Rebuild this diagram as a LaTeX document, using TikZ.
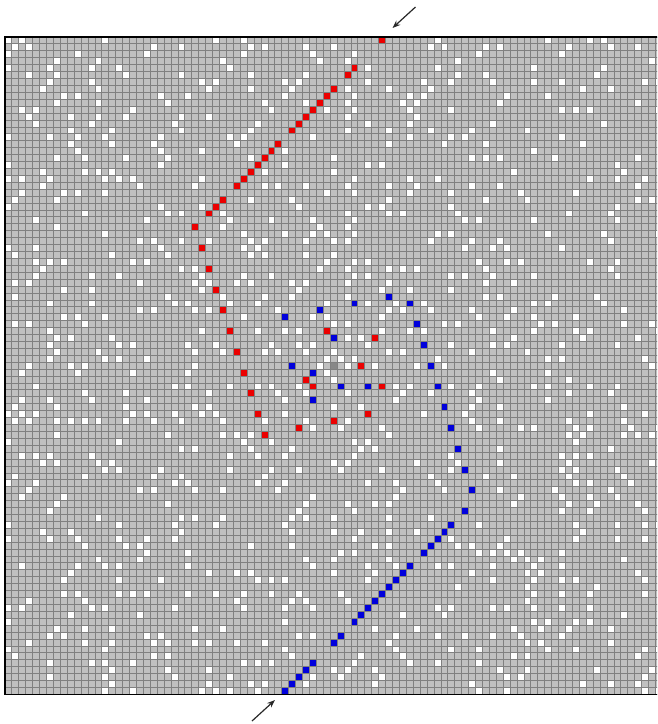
\documentclass[tikz,border=0pt]{standalone}
\usetikzlibrary{arrows.meta}
\definecolor{cellgray}{RGB}{192,192,192}
\definecolor{linegray}{RGB}{128,128,128}
\definecolor{pathred}{RGB}{235,0,0}
\definecolor{pathblue}{RGB}{0,0,220}
\definecolor{centergray}{RGB}{136,136,136}
\definecolor{arrowdark}{RGB}{40,40,40}
\def\cellsz{6.92}
\newcommand\cellat[3]{\fill[#3] ({5+#1*\cellsz},{37+#2*\cellsz}) rectangle ++(\cellsz,\cellsz);}
% Park-Miller generator (Schrage's method)
\newcount\rseed \rseed=20231
\newcount\rhi \newcount\rlo
\def\nextrand{%
  \global\rhi=\rseed \global\divide\rhi by 127773
  \global\rlo=\rhi \global\multiply\rlo by -127773 \global\advance\rlo by \rseed
  \global\multiply\rlo by 16807
  \global\multiply\rhi by 2836
  \global\advance\rlo by -\rhi
  \ifnum\rlo<0 \global\advance\rlo by 2147483647 \fi
  \global\rseed=\rlo}
\newif\ifknowncell
\tikzset{
  gridline/.style={draw=linegray, line width=0.9pt},
  frameline/.style={draw=black, line width=1.3pt},
  pointer/.style={draw=arrowdark, line width=1.2pt, -{Stealth[length=8pt,width=6pt]}}
}
\begin{document}
\begin{tikzpicture}[x=1pt,y=-1pt]
\useasboundingbox (0,0) rectangle (657,724);
\clip (0,0) rectangle (657,724);
\fill[cellgray] (5,37) rectangle ({5+95*\cellsz},{37+95*\cellsz});
% pseudo-random texture (on the even sublattice) outside the transcribed regions
\foreach \r in {0,...,94}{
  \foreach \c in {0,...,94}{
    \ifodd\numexpr\c+\r\relax\else
      \nextrand
      \knowncellfalse
      \ifnum\c>25 \ifnum\c<57 \ifnum\r<59 \knowncelltrue\fi\fi\fi
      \ifnum\c>37 \ifnum\c<69 \ifnum\r>58 \knowncelltrue\fi\fi\fi
      \ifnum\c>56 \ifnum\c<69 \ifnum\r>35 \knowncelltrue\fi\fi\fi
      \ifknowncell\else
        \ifnum\rseed<472446402 \cellat{\c}{\r}{white}\fi
      \fi
    \fi
  }
}
% transcribed white cells
\foreach \r/\cols in {
 0/{30,34},1/{35,37,43,47},2/{34,44,50},3/{31,45,49},4/{32,52},5/{35,43},
 6/{28,30,40,42,52},7/{29,35,41,49,55},8/{26,40,50},9/{37,43,49},10/{38,46,50},
 11/{29,49},12/{36,52},13/{35,49,55},14/{32,34,44},15/{33,55},16/{28,40},
 17/{35,47},18/{40,52,54},19/{37,47},20/{28,50},21/{27,37,39,43,49,55},
 22/{46,50},23/{35,41,55},24/{28,42,52,54},25/{31,49,55},26/{32,38,44,50},
 27/{31,45,49},28/{34,40,44,46,50},29/{29,35,37,43,47,49},30/{34,36},
 31/{35,37,43,47},32/{46,50,52},33/{27,45,49,55},34/{28,34,38,50,52},
 35/{27,29,33,35,41,43,49,55},36/{28,42,54,58,64},37/{31,37,41,49},
 38/{26,32,36,46,52,56,60},39/{27,29,39,55,57,61,67},40/{34,44,46,54,68},
 41/{47,49,63,65},42/{28,36,40,42,54,58,60},43/{49,51},44/{26,30,38,42,44,52,64},
 45/{27,31,37,39,43,47,55,57,67},46/{46,48,50,62},47/{27,45,49,53,59,63},
 48/{26,46},49/{47},50/{26,32,36,38,42,56,58,64,68},51/{29,39,43,49,57,61,67},
 52/{40,56,68},53/{27,29,47,51,67},54/{28,30,40,60,66},55/{31,37,43,49,67},
 56/{44,48,54,64,68},57/{31,33,35,55},58/{34,38,50,52},
 59/{41,51,53},60/{40,50,64},61/{47,49,59,65},62/{38,42,48,54,64},63/{61},
 64/{40,52,56,62},65/{39,57,63},66/{44,56},
 67/{43,49,53,55},68/{42,50},69/{41,43,47,55,61},70/{40,68},71/{41,47,51,55,59},
 72/{50,64},73/{41,53,55,65,67},74/{48,50,68},75/{43,47,55},76/{44,52,56,62,64},
 77/{47,53,67},78/{38,40,52},79/{65},80/{38,42,48},81/{41,43,49},82/{40,44,62,64},
 83/{57,63},84/{40},85/{53,59},86/{42,44,56,62,66},87/{55},88/{40,56,64,68},
 89/{41,51,57},90/{38,50,58,62,68},91/{47,49,53},92/{44,48,54},93/{43,53,67},94/{68}}{
  \foreach \c in \cols {\cellat{\c}{\r}{white}}
}
% red path
\foreach \c/\r in {54/0,50/4,49/5,47/7,46/8,45/9,44/10,43/11,42/12,41/13,39/15,38/16,37/17,
 36/18,35/19,34/20,33/21,31/23,30/24,29/25,27/27,28/30,29/33,30/36,31/39,32/42,33/45,34/48,
 35/51,36/54,37/57,46/42,53/43,51/47,43/49,44/50,54/50,52/54,47/55,42/56}{
  \cellat{\c}{\r}{pathred}
}
% blue path
\foreach \c/\r in {55/37,58/38,50/38,45/39,40/40,59/41,47/43,60/44,41/47,61/47,44/48,48/50,
 52/50,62/50,44/52,63/53,64/56,65/59,66/62,67/65,66/68,64/70,63/71,62/72,61/73,60/74,58/76,
 57/77,56/78,55/79,54/80,53/81,52/82,51/83,50/84,48/86,47/87,44/90,43/91,42/92,41/93,40/94}{
  \cellat{\c}{\r}{pathblue}
}
\cellat{47}{47}{centergray}
% grid lines
\foreach \i in {0,...,95}{
  \draw[gridline] ({5+\i*\cellsz},37) -- ({5+\i*\cellsz},{37+95*\cellsz});
  \draw[gridline] (5,{37+\i*\cellsz}) -- ({5+95*\cellsz},{37+\i*\cellsz});
}
\draw[frameline] (5,37) rectangle ({5+95*\cellsz},{37+95*\cellsz});
% arrows
\coordinate (topstart) at (415.5,7);
\coordinate (topend) at (392.5,28);
\coordinate (botstart) at (252,721);
\coordinate (botend) at (275,700);
\draw[pointer] (topstart) -- (topend);
\draw[pointer] (botstart) -- (botend);
\end{tikzpicture}
\end{document}
